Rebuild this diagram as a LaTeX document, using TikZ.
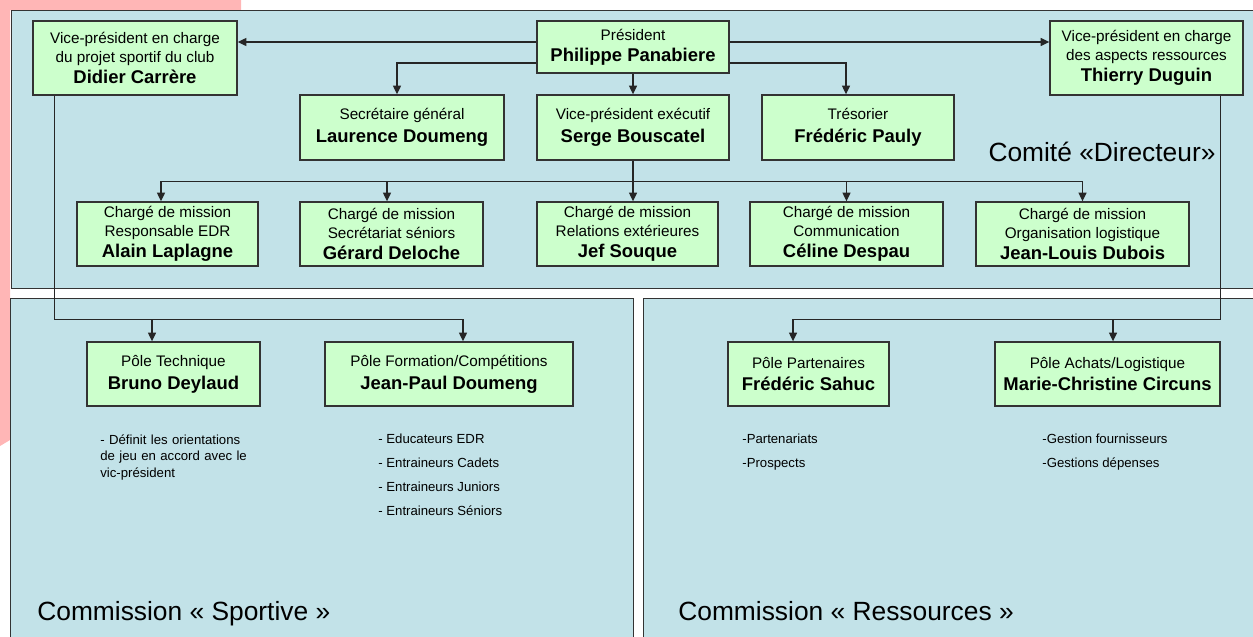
\documentclass[tikz,border=0pt]{standalone}
\usepackage{fontspec}
\setmainfont{Liberation Sans}
\usetikzlibrary{arrows.meta}
\definecolor{panneau}{RGB}{194,226,232}
\definecolor{boite}{RGB}{204,255,204}
\definecolor{rose}{RGB}{255,182,182}
\newcommand{\nom}[1]{{\fontsize{10.5}{12}\selectfont\bfseries #1}}
\begin{document}
\begin{tikzpicture}[x=0.02cm, y=-0.02cm, >={Triangle[width=4.6pt,length=5pt]},
	box/.style={draw=black!80, line width=0.8pt, fill=boite, align=center, inner sep=1pt, font=\fontsize{8.7}{11}\selectfont},
	liste/.style={anchor=north west, align=left, inner sep=0pt, font=\fontsize{7.5}{13.6}\selectfont},
	titre/.style={font=\fontsize{15}{18}\selectfont, inner sep=0pt},
	lien/.style={draw=black!85, line width=0.7pt}]
	\useasboundingbox (0,0) rectangle (1253,636);
	% fonds
	\fill[rose] (0,0) -- (241,0) -- (241,10) -- (10,10) -- (10,440) -- (0,446) -- cycle;
	\filldraw[fill=panneau, draw=black!80] (11,10) rectangle (1262,288);
	\filldraw[fill=panneau, draw=black!80] (10,298) rectangle (633,645);
	\filldraw[fill=panneau, draw=black!80] (643,298) rectangle (1262,645);
	% comite directeur
	\node[box, minimum width=4.08cm, minimum height=1.48cm] (vps) at (135,58) {Vice-président en charge\\du projet sportif du club\\[1pt]\nom{Didier Carrère}};
	\node[box, minimum width=3.84cm, minimum height=1.04cm] (pres) at (633,47) {Président\\[1pt]\nom{Philippe Panabiere}};
	\node[box, minimum width=3.86cm, minimum height=1.48cm] (vpr) at (1146.5,58) {Vice-président en charge\\des aspects ressources\\[1pt]\nom{Thierry Duguin}};
	\node[box, minimum width=4.08cm, minimum height=1.3cm] (sec) at (402,127.5) {Secrétaire général\\[2pt]\nom{Laurence Doumeng}};
	\node[box, minimum width=3.84cm, minimum height=1.3cm] (vpe) at (633,127.5) {Vice-président exécutif\\[2pt]\nom{Serge Bouscatel}};
	\node[box, minimum width=3.84cm, minimum height=1.3cm] (tres) at (858,127.5) {Trésorier\\[2pt]\nom{Frédéric Pauly}};
	\foreach \n/\x/\w/\r/\p in {alain/167.5/3.62/Responsable EDR/Alain Laplagne,
		gerard/391.5/3.66/Secrétariat séniors/Gérard Deloche,
		jef/627.5/3.62/Relations extérieures/Jef Souque,
		celine/846.5/3.86/Communication/Céline Despau,
		jld/1082.5/4.26/Organisation logistique/Jean-Louis Dubois}
		\node[box, minimum width=\w cm, minimum height=1.28cm] (\n) at (\x,234) {Chargé de mission\\\r\\[1pt]\nom{\p}};
	\node[titre] (directeur) at (1102,152) {Comité «Directeur»};
	% liens du comite
	\draw[lien,->] ([yshift=0.1cm]pres.west) -- ([yshift=0.1cm]pres.west -| vps.east);
	\draw[lien,->] ([yshift=0.1cm]pres.east) -- ([yshift=0.1cm]pres.east -| vpr.west);
	\draw[lien,->] ([yshift=-0.32cm]pres.west) -| ([xshift=-0.1cm]sec.north);
	\draw[lien,->] ([yshift=-0.32cm]pres.east) -| ([xshift=-0.24cm]tres.north);
	\draw[lien,->] (pres) -- (vpe);
	\path (vpe.south) ++(0,21) coordinate (barre);
	\draw[lien,->] (vpe) -- (barre -| vpe) -- (jef.north -| vpe);
	\foreach \n/\d in {alain/-0.13,gerard/-0.09,celine/0,jld/0}
		\draw[lien,->] (barre) -| ([xshift=\d cm]\n.north);
	% commission sportive
	\node[box, minimum width=3.46cm, minimum height=1.28cm] (bruno) at (173.5,374) {Pôle Technique\\[2pt]\nom{Bruno Deylaud}};
	\node[box, minimum width=4.96cm, minimum height=1.28cm] (jp) at (449,374) {Pôle Formation/Compétitions\\[2pt]\nom{Jean-Paul Doumeng}};
	\path ([xshift=0.44cm]vps.south west) coordinate (sp)
		([xshift=0.28cm,yshift=0.44cm]jp.north) coordinate (spbarre);
	\draw[lien,->] (sp) |- (spbarre) -- ([xshift=0.28cm]jp.north);
	\draw[lien,->] (sp |- spbarre) -| ([xshift=-0.43cm]bruno.north);
	\node[liste, text width=3.2cm] (bnotes) at (100,434) {- Définit les orientations\\[-4.2pt]de jeu en accord avec le\\[-4.2pt]vic-président};
	\node[liste] (jpnotes) at (378,434) {- Educateurs EDR\\- Entraineurs Cadets\\- Entraineurs Juniors\\- Entraineurs Séniors};
	\node[titre, anchor=base west] (sportive) at (37,620) {Commission « Sportive »};
	% commission ressources
	\node[box, minimum width=3.22cm, minimum height=1.28cm] (sahuc) at (808.5,374) {Pôle Partenaires\\[2pt]\nom{Frédéric Sahuc}};
	\node[box, minimum width=4.5cm, minimum height=1.28cm] (mc) at (1107.5,374) {Pôle Achats/Logistique\\[2pt]\nom{Marie-Christine Circuns}};
	\path ([xshift=-0.46cm]vpr.south east) coordinate (rs)
		([xshift=-0.31cm,yshift=0.44cm]sahuc.north) coordinate (rsbarre);
	\draw[lien,->] (rs) |- (rsbarre) -- ([xshift=-0.31cm]sahuc.north);
	\draw[lien,->] (rs |- rsbarre) -| ([xshift=0.11cm]mc.north);
	\node[liste] (snotes) at (742,434) {-Partenariats\\-Prospects};
	\node[liste] (mcnotes) at (1042,434) {-Gestion fournisseurs\\-Gestions dépenses};
	\node[titre, anchor=base west] (ressources) at (678,620) {Commission « Ressources »};
\end{tikzpicture}
\end{document}
